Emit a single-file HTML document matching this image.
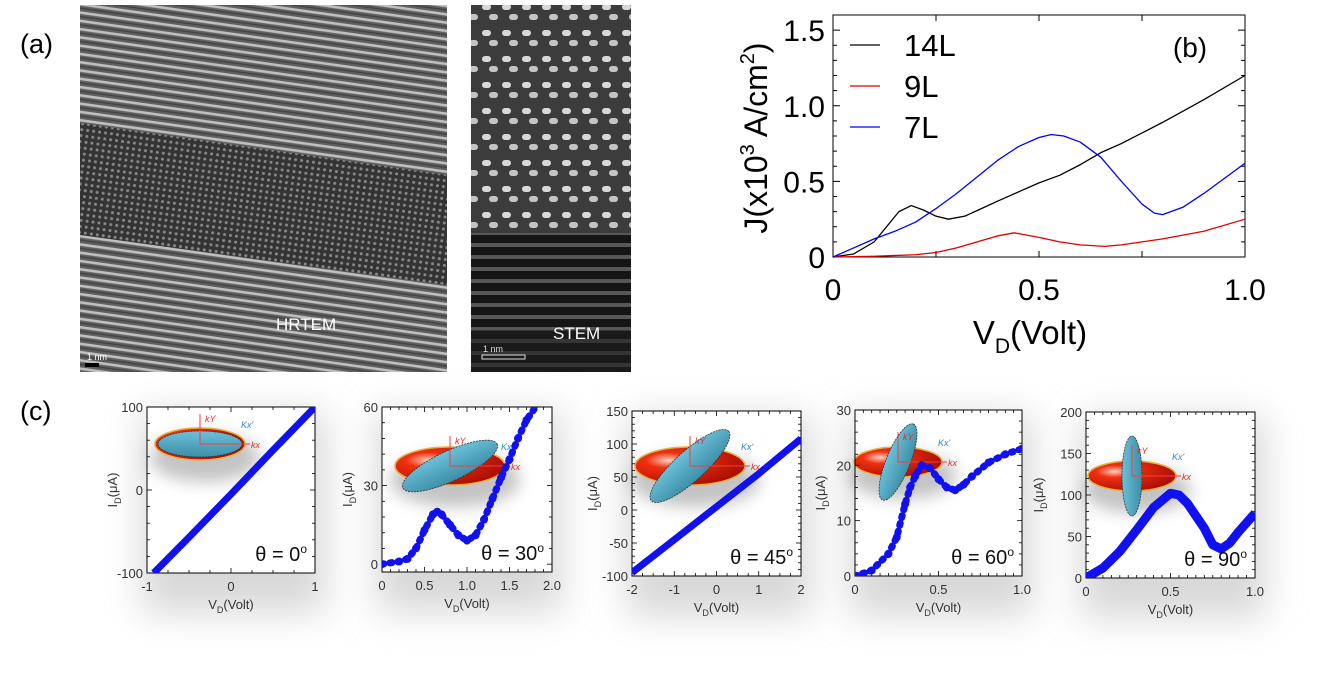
<!DOCTYPE html>
<html><head><meta charset="utf-8">
<style>
html,body{margin:0;padding:0;background:#fff;}
svg{display:block;font-family:"Liberation Sans",sans-serif;}
</style></head>
<body>
<svg id="fig" width="1333" height="692" viewBox="0 0 1333 692" xmlns="http://www.w3.org/2000/svg">
<defs>
 <pattern id="hrStripe" width="400" height="8.2" patternUnits="userSpaceOnUse" patternTransform="rotate(8)">
  <rect width="400" height="8.2" fill="#5a5a5a"/>
  <rect y="0" width="400" height="2.6" fill="#c8c8c8"/>
  <rect y="4.5" width="400" height="1.4" fill="#3a3a3a"/>
 </pattern>
 <pattern id="hrDots" width="6" height="6" patternUnits="userSpaceOnUse" patternTransform="rotate(8)">
  <rect width="6" height="6" fill="#2a2a2a"/>
  <circle cx="3" cy="3" r="1.5" fill="#8a8a8a"/>
 </pattern>
 <pattern id="stDots" width="20" height="26" patternUnits="userSpaceOnUse">
  <rect width="20" height="26" fill="#3c3c3c"/>
  <rect x="2" y="4" width="9" height="6" rx="3" fill="#d8d8d8"/>
  <rect x="9" y="14" width="9" height="6" rx="3" fill="#c4c4c4"/>
 </pattern>
 <pattern id="stStripe" width="40" height="12" patternUnits="userSpaceOnUse">
  <rect width="40" height="12" fill="#151515"/>
  <rect y="3" width="40" height="4" fill="#575757"/>
 </pattern>
 <radialGradient id="redG" cx="0.3" cy="0.35" r="0.8">
  <stop offset="0" stop-color="#ffd0c0"/><stop offset="0.25" stop-color="#f03010"/><stop offset="1" stop-color="#a00800"/>
 </radialGradient>
 <linearGradient id="blueG" x1="0" y1="0" x2="0" y2="1">
  <stop offset="0" stop-color="#6cc0d8"/><stop offset="1" stop-color="#3d8ea8"/>
 </linearGradient>
 <filter id="blur" x="-50%" y="-50%" width="200%" height="200%"><feGaussianBlur stdDeviation="18"/></filter>
 <filter id="blurS" x="-50%" y="-50%" width="200%" height="200%"><feGaussianBlur stdDeviation="8"/></filter>
</defs>

<!-- Panel (a) -->
<text x="20" y="53" font-size="27" font-family="Liberation Sans, sans-serif">(a)</text>
<g>
 <rect x="80" y="5" width="367" height="367" fill="url(#hrStripe)"/>
 <polygon points="80,123 447,175 447,285 80,235" fill="url(#hrDots)"/>
 <rect x="80" y="5" width="367" height="367" fill="#808080" opacity="0.12"/>
 <text x="276" y="330" font-size="17" fill="#fff">HRTEM</text>
 <text x="87" y="360" font-size="9" fill="#fff">1 nm</text>
 <rect x="85" y="363" width="14" height="4" fill="#000"/>
</g>
<g>
 <rect x="471" y="5" width="160" height="228" fill="url(#stDots)"/>
 <rect x="471" y="233" width="160" height="139" fill="url(#stStripe)"/>
 <rect x="471" y="330" width="160" height="42" fill="#1e1e1e" opacity="0.6"/>
 <text x="553" y="339" font-size="17" fill="#fff">STEM</text>
 <text x="483" y="352" font-size="9" fill="#ddd">1 nm</text>
 <rect x="482" y="355" width="43" height="4" fill="none" stroke="#ddd" stroke-width="1"/>
</g>

<!-- Panel (b) -->
<g id="chartB"></g>

<!-- Panel (c) -->
<text x="20" y="420" font-size="27">(c)</text>
<g id="chartsC"></g>
</svg>

<script>
// ---------- Panel (b) data ----------
const bX14 = [0,0.05,0.1,0.13,0.16,0.19,0.22,0.25,0.28,0.32,0.36,0.4,0.45,0.5,0.55,0.6,0.65,0.7,0.8,0.9,1.0];
const bY14 = [0,0.02,0.1,0.2,0.3,0.34,0.31,0.27,0.25,0.27,0.32,0.37,0.43,0.49,0.54,0.61,0.69,0.75,0.89,1.04,1.2];
const bX9 = [0,0.1,0.2,0.25,0.3,0.35,0.4,0.44,0.5,0.55,0.6,0.66,0.7,0.75,0.8,0.9,1.0];
const bY9 = [0,0.005,0.015,0.03,0.06,0.1,0.14,0.16,0.13,0.1,0.08,0.07,0.08,0.1,0.12,0.17,0.25];
const bX7 = [0,0.05,0.1,0.15,0.2,0.25,0.3,0.35,0.4,0.45,0.5,0.53,0.56,0.6,0.65,0.7,0.75,0.78,0.8,0.85,0.9,0.95,1.0];
const bY7 = [0,0.06,0.12,0.17,0.23,0.32,0.42,0.53,0.64,0.73,0.79,0.81,0.8,0.76,0.66,0.5,0.35,0.29,0.28,0.33,0.42,0.52,0.62];
const bXTicks = [0,0.5,1.0];
const bXTickLabels = ["0","0.5","1.0"];
const bYTicks = [0,0.5,1.0,1.5];
const bYTickLabels = ["0","0.5","1.0","1.5"];
const bSeriesNames = ["14L","9L","7L"];
const bSeriesColors = ["#000","#e00000","#0000ff"];

// ---------- Panel (c) data ----------
const c1X = [-0.92,-0.5,0,0.5,1.0];
const c1Y = [-100,-57,-5,48,100];
const c2X = [0,0.2,0.3,0.4,0.5,0.6,0.65,0.7,0.8,0.9,1.0,1.1,1.2,1.3,1.4,1.5,1.6,1.7,1.85];
const c2Y = [0,1,2,6,13,19,20,19,15,11,9,11,17,25,33,40,48,55,62];
const c3X = [-2,-1,0,1,2];
const c3Y = [-95,-45,5,55,108];
const c4X = [0,0.1,0.2,0.25,0.3,0.33,0.36,0.4,0.45,0.5,0.55,0.6,0.65,0.7,0.8,0.9,1.0];
const c4Y = [0,1,4,7,13,16,18,20,19.5,17.5,16,15.5,16.5,18,20.5,22,23];
const c5X = [0,0.1,0.2,0.3,0.4,0.5,0.55,0.6,0.7,0.75,0.8,0.85,0.9,1.0];
const c5Y = [0,12,32,58,85,102,100,90,60,40,35,42,55,78];
const cAngles = ["0","30","45","60","90"];

const NS = "http://www.w3.org/2000/svg";
function mk(tag, attrs, parent){ const e=document.createElementNS(NS,tag); for(const k in attrs) e.setAttribute(k,attrs[k]); parent.appendChild(e); return e; }
function lin(d0,d1,r0,r1){ return v => r0+(v-d0)/(d1-d0)*(r1-r0); }

// ---------- Draw panel (b) ----------
(function(){
 const g=document.getElementById('chartB');
 const L=833,R=1245,T=15,B=257;
 const sx=lin(0,1,L,R), sy=lin(0,1.6,B,T);
 const frame=mk('rect',{x:L,y:T,width:R-L,height:B-T,fill:'none',stroke:'#000','stroke-width':1},g);
 
 
 for(let v=0; v<=1.6001; v+=0.1){
  const y=sy(v), len=(Math.round(v*10)%5===0)?7:4;
  mk('line',{x1:L,x2:L+len,y1:y,y2:y,stroke:'#000'},g);
  mk('line',{x1:R,x2:R-len,y1:y,y2:y,stroke:'#000'},g);
 }
 for(let v=0; v<=1.0001; v+=0.25){
  const x=sx(v);
  mk('line',{x1:x,x2:x,y1:T,y2:T+6,stroke:'#000'},g);
  mk('line',{x1:x,x2:x,y1:B,y2:B-6,stroke:'#000'},g);
 }
 bYTicks.forEach((v,i)=>{
  const t=mk('text',{x:L-8,y:sy(v)+11,'font-size':30,'text-anchor':'end'},g);
  t.textContent=bYTickLabels[i];
  
  
 });
 bXTicks.forEach((v,i)=>{
  const t=mk('text',{x:sx(v),y:B+43,'font-size':30,'text-anchor':'middle'},g);
  t.textContent=bXTickLabels[i];
  
  
 });
 const xt=mk('text',{x:1030,y:344,'font-size':33,'text-anchor':'middle'},g);
 xt.innerHTML='V<tspan font-size="21" dy="9">D</tspan><tspan dy="-9">(Volt)</tspan>';
 
 
 const yt=mk('text',{x:0,y:0,'font-size':32,'text-anchor':'middle',transform:'translate(767,138) rotate(-90)'},g);
 yt.innerHTML='J(x10<tspan font-size="20" dy="-13">3</tspan><tspan dy="13"> A/cm</tspan><tspan font-size="20" dy="-13">2</tspan><tspan dy="13">)</tspan>';
 
 
 const pl=mk('text',{x:1190,y:57,'font-size':28,'text-anchor':'middle'},g);
 pl.textContent='(b)';
 
 
 const xs=[bX14,bX9,bX7], ys=[bY14,bY9,bY7];
 xs.forEach((X,k)=>{
  const pts=X.map((x,i)=>sx(x)+','+sy(ys[k][i])).join(' ');
  const p=mk('polyline',{points:pts,fill:'none',stroke:bSeriesColors[k],'stroke-width':1.3,'stroke-linejoin':'round'},g);
  
  
 });
 bSeriesNames.forEach((n,k)=>{
  const y=45+k*41;
  const ln=mk('line',{x1:850,x2:880,y1:y,y2:y,stroke:bSeriesColors[k],'stroke-width':1.3},g);
  
  
  const t=mk('text',{x:904,y:y+11,'font-size':31},g);
  t.textContent=n;
  
  
 });
})();

// ---------- Draw panel (c) ----------
const cCharts=[
 {L:147,R:315,T:407,B:573,x0:-1,x1:1,y0:-100,y1:100,X:c1X,Y:c1Y,xt:[-1,0,1],xl:["-1","0","1"],yt:[-100,0,100],yl:["-100","0","100"],xm:0.25,ym:20,w:7,cx:200,cy:444,rrx:45,rry:16,brx:42,bry:13,ang:0},
 {L:382,R:552,T:407,B:572,x0:0,x1:2,y0:-3,y1:60,X:c2X,Y:c2Y,xt:[0,0.5,1,1.5,2],xl:["0","0.5","1.0","1.5","2.0"],yt:[0,30,60],yl:["0","30","60"],xm:0.1,ym:6,w:6,dots:true,cx:450,cy:466,rrx:55,rry:19,brx:52,bry:15,ang:-25},
 {L:632,R:801,T:411,B:576,x0:-2,x1:2,y0:-100,y1:150,X:c3X,Y:c3Y,xt:[-2,-1,0,1,2],xl:["-2","-1","0","1","2"],yt:[-100,-50,0,50,100,150],yl:["-100","-50","0","50","100","150"],xm:0.25,ym:10,w:7,cx:690,cy:466,rrx:55,rry:19,brx:52,bry:15,ang:-42},
 {L:855,R:1022,T:410,B:576,x0:0,x1:1,y0:0,y1:30,X:c4X,Y:c4Y,xt:[0,0.5,1],xl:["0","0.5","1.0"],yt:[0,10,20,30],yl:["0","10","20","30"],xm:0.05,ym:2,w:4,dots:true,cx:898,cy:462,rrx:44,rry:15,brx:41,bry:12,ang:-68},
 {L:1086,R:1255,T:412,B:578,x0:0,x1:1,y0:0,y1:200,X:c5X,Y:c5Y,xt:[0,0.5,1],xl:["0","0.5","1.0"],yt:[0,50,100,150,200],yl:["0","50","100","150","200"],xm:0.05,ym:10,w:9,cx:1132,cy:476,rrx:44,rry:15,brx:40,bry:10,ang:-90}
];
(function(){
 const root=document.getElementById('chartsC');
 cCharts.forEach((c,ci)=>{
  const g=mk('g',{},root);
  
  
  const sh=mk('rect',{x:c.L-5,y:c.T+5,width:c.R-c.L+15,height:c.B-c.T+35,fill:'#d8d8d8',filter:'url(#blur)'},g);
  
  
  mk('rect',{x:c.L,y:c.T,width:c.R-c.L,height:c.B-c.T,fill:'#fff'},g);
  const sx=lin(c.x0,c.x1,c.L,c.R), sy=lin(c.y0,c.y1,c.B,c.T);
  const cx=c.cx, cy=c.cy;
  const ins=mk('g',{},g);
  
  
  mk('ellipse',{cx:cx+5,cy:cy+14,rx:c.rrx+10,ry:c.rry+8,fill:'#888',opacity:0.5,filter:'url(#blurS)'},ins);
  mk('ellipse',{cx:cx,cy:cy,rx:c.rrx,ry:c.rry,fill:'url(#redG)',stroke:'#e8b040','stroke-width':1.5},ins);
  mk('ellipse',{cx:cx,cy:cy,rx:c.brx,ry:c.bry,fill:'url(#blueG)',stroke:'#333','stroke-width':0.8,'stroke-dasharray':'2,1',transform:`rotate(${c.ang} ${cx} ${cy})`},ins);
  mk('line',{x1:cx,y1:cy,x2:cx,y2:cy-30,stroke:'#f04040','stroke-width':1},ins);
  mk('line',{x1:cx,y1:cy,x2:cx+c.rrx+5,y2:cy,stroke:'#f04040','stroke-width':1},ins);
  const ky=mk('text',{x:cx+5,y:cy-22,'font-size':9,'font-style':'italic',fill:'#e03030'},ins); ky.textContent='kY';
  const kx=mk('text',{x:cx+c.rrx+6,y:cy+4,'font-size':9,'font-style':'italic',fill:'#e03030'},ins); kx.textContent='kx';
  const kx2=mk('text',{x:cx+c.rrx-4,y:cy-16,'font-size':9,'font-style':'italic',fill:'#2a8ad0'},ins); kx2.textContent="Kx'";
  for(let v=c.y0; v<=c.y1+1e-9; v+=c.ym){
   const vv=Math.round(v/c.ym)*c.ym; if(vv<c.y0) continue;
   const y=sy(vv), major=c.yt.some(t=>Math.abs(t-vv)<1e-6);
   mk('line',{x1:c.L,x2:c.L+(major?5:3),y1:y,y2:y,stroke:'#000','stroke-width':0.8},g);
   mk('line',{x1:c.R,x2:c.R-(major?5:3),y1:y,y2:y,stroke:'#000','stroke-width':0.8},g);
  }
  for(let v=c.x0; v<=c.x1+1e-9; v+=c.xm){
   const x=sx(v), major=c.xt.some(t=>Math.abs(t-v)<1e-6);
   mk('line',{x1:x,x2:x,y1:c.B,y2:c.B-(major?5:3),stroke:'#000','stroke-width':0.8},g);
   mk('line',{x1:x,x2:x,y1:c.T,y2:c.T+(major?5:3),stroke:'#000','stroke-width':0.8},g);
  }
  mk('rect',{x:c.L,y:c.T,width:c.R-c.L,height:c.B-c.T,fill:'none',stroke:'#000','stroke-width':1},g);
  const pts=c.X.map((x,i)=>sx(x)+','+sy(c.Y[i])).join(' ');
  const clip='clipC'+ci;
  const cp=mk('clipPath',{id:clip},g); mk('rect',{x:c.L,y:c.T,width:c.R-c.L,height:c.B-c.T},cp);
  const s=mk('polyline',{points:pts,fill:'none',stroke:'#1010f0','stroke-width':c.dots?1.5:c.w,'stroke-linejoin':'round','clip-path':`url(#${clip})`},g);
  
  
  if(c.dots){
   c.X.forEach((x,i)=>{
    const d=mk('circle',{cx:sx(x),cy:sy(c.Y[i]),r:4,fill:'#1010f0','clip-path':`url(#${clip})`},g);
    
    
   });
   mk('polyline',{points:pts,fill:'none',stroke:'#1010f0','stroke-width':7,'stroke-dasharray':'2,6','stroke-linecap':'round','clip-path':`url(#${clip})`},g);
  }
  c.yt.forEach((v,i)=>{
   const t=mk('text',{x:c.L-4,y:sy(v)+5,'font-size':13,'text-anchor':'end',fill:'#333'},g);
   t.textContent=c.yl[i];
   
   
  });
  c.xt.forEach((v,i)=>{
   const t=mk('text',{x:sx(v),y:c.B+18,'font-size':13,'text-anchor':'middle',fill:'#333'},g);
   t.textContent=c.xl[i];
   
   
  });
  const xa=mk('text',{x:(c.L+c.R)/2,y:c.B+36,'font-size':13,'text-anchor':'middle',fill:'#333'},g);
  xa.innerHTML='V<tspan font-size="9" dy="4">D</tspan><tspan dy="-4">(Volt)</tspan>';
  
  
  const ya=mk('text',{x:0,y:0,'font-size':13,'text-anchor':'middle',fill:'#333',transform:`translate(${c.L-(ci==2?35:ci==4?43:30)},${(c.T+c.B)/2}) rotate(-90)`},g);
  ya.innerHTML='I<tspan font-size="9" dy="4">D</tspan><tspan dy="-4">(μA)</tspan>';
  
  
  const th=mk('text',{x:c.R-8,y:c.B-12,'font-size':20,'text-anchor':'end',fill:'#111'},g);
  th.innerHTML='θ = '+cAngles[ci]+'<tspan font-size="12" dy="-8">o</tspan>';
  
  
 });
})();
</script>
</body></html>
